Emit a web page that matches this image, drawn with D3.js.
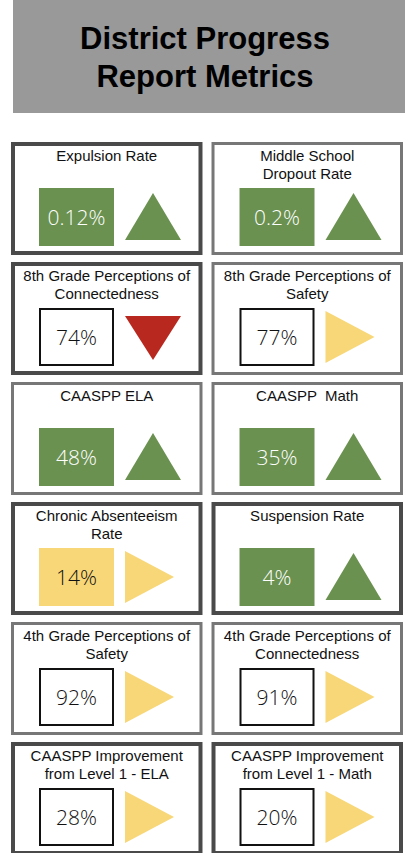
<!DOCTYPE html>
<html>
<head>
<meta charset="utf-8">
<script src="https://cdn.jsdelivr.net/npm/d3@7"></script>
<style>
  body { margin: 0; background: #fff; }
</style>
</head>
<body>
<div id="my_dataviz"></div>
<script>
// metric cards, read left->right, top->bottom
var titles = [
  ["Expulsion Rate"],
  ["Middle School", "Dropout Rate"],
  ["8th Grade Perceptions of", "Connectedness"],
  ["8th Grade Perceptions of", "Safety"],
  ["CAASPP ELA"],
  ["CAASPP  Math"],
  ["Chronic Absenteeism", "Rate"],
  ["Suspension Rate"],
  ["4th Grade Perceptions of", "Safety"],
  ["4th Grade Perceptions of", "Connectedness"],
  ["CAASPP Improvement", "from Level 1 - ELA"],
  ["CAASPP Improvement", "from Level 1 - Math"]
];
var values = ["0.12%", "0.2%", "74%", "77%", "48%", "35%", "14%", "4%", "92%", "91%", "28%", "20%"];
// up = improving, down = declining, flat = no change
var trends = ["up", "up", "down", "flat", "up", "up", "flat", "up", "flat", "flat", "flat", "flat"];
var boxKinds = ["green", "green", "outline", "outline", "green", "green", "yellow", "green", "outline", "outline", "outline", "outline"];
var borderTones = ["dark", "mid", "dark", "mid", "mid", "mid", "dark", "dark", "mid", "mid", "dark", "dark"];

var W = 405, H = 853;
var green = "#6a9150", red = "#b8281e", yellow = "#f8d779";

var svg = d3.select("#my_dataviz")
  .append("svg")
    .attr("width", W)
    .attr("height", H);

// header
svg.append("rect")
  .attr("x", 13).attr("y", 0)
  .attr("width", W - 13).attr("height", 113)
  .attr("fill", "#999999");

svg.append("text")
  .attr("x", 205)
  .attr("text-anchor", "middle")
  .style("font-family", "'Liberation Sans', Arial, sans-serif")
  .style("font-weight", "bold")
  .style("font-size", "31px")
  .attr("fill", "#000")
  .selectAll("tspan")
  .data(["District Progress", "Report Metrics"])
  .join("tspan")
    .attr("x", 205)
    .attr("y", function(d, i) { return 49 + i * 38; })
    .text(function(d) { return d; });

// grid of cards
var x = d3.scaleBand().domain([0, 1]).range([11, 403]).paddingInner(0.045);
var y = d3.scaleBand().domain(d3.range(6)).range([142, 855]).paddingInner(7 / 120);

var cards = values.map(function(v, i) {
  return { i: i, title: titles[i], value: v, trend: trends[i], box: boxKinds[i], tone: borderTones[i] };
});

var card = svg.selectAll("g.card")
  .data(cards)
  .join("g")
    .attr("class", "card")
    .attr("transform", function(d) {
      return "translate(" + x(d.i % 2) + "," + y(Math.floor(d.i / 2)) + ")";
    });

var cw = x.bandwidth(), ch = y.bandwidth();

card.append("rect")
  .attr("x", function(d) { return d.tone === "dark" ? 2 : 1.5; })
  .attr("y", function(d) { return d.tone === "dark" ? 2 : 1.5; })
  .attr("width", function(d) { return cw - (d.tone === "dark" ? 4 : 3); })
  .attr("height", function(d) { return ch - (d.tone === "dark" ? 4 : 3); })
  .attr("fill", "#fff")
  .attr("stroke", function(d) { return d.tone === "dark" ? "#4a4a4a" : "#777777"; })
  .attr("stroke-width", function(d) { return d.tone === "dark" ? 4 : 3; });

card.append("text")
  .attr("text-anchor", "middle")
  .style("font-family", "'Liberation Sans', Arial, sans-serif")
  .style("font-size", "15px")
  .style("white-space", "pre")
  .attr("fill", "#111")
  .selectAll("tspan")
  .data(function(d) { return d.title; })
  .join("tspan")
    .attr("x", cw / 2)
    .attr("y", function(d, i) { return 19 + i * 18; })
    .text(function(d) { return d; });

// value box
var bx = 28, by = 46, bw = 75, bh = 58;
card.append("rect")
  .attr("x", function(d) { return d.box === "outline" ? bx + 1 : bx; })
  .attr("y", function(d) { return d.box === "outline" ? by + 1 : by; })
  .attr("width", function(d) { return d.box === "outline" ? bw - 2 : bw; })
  .attr("height", function(d) { return d.box === "outline" ? bh - 2 : bh; })
  .attr("fill", function(d) { return d.box === "green" ? green : d.box === "yellow" ? yellow : "#fff"; })
  .attr("stroke", function(d) { return d.box === "outline" ? "#111" : "none"; })
  .attr("stroke-width", 2);

card.append("text")
  .attr("x", bx + bw / 2)
  .attr("y", by + bh / 2 + 7.5)
  .attr("text-anchor", "middle")
  .style("font-family", "'Open Sans', Lato, sans-serif")
  .style("font-weight", 300)
  .style("font-size", "21px")
  .attr("fill", function(d) { return d.box === "green" ? "#fff" : "#111"; })
  .text(function(d) { return d.value; });

// trend marker
var tx = bx + bw + 11, cy = by + bh / 2;
var shapes = {
  up:   function() { return [[tx, cy + 23], [tx + 28, cy - 24], [tx + 56, cy + 23]]; },
  down: function() { return [[tx, cy - 21], [tx + 56, cy - 21], [tx + 28, cy + 23]]; },
  flat: function() { return [[tx, cy - 26], [tx + 49, cy], [tx, cy + 26]]; }
};
var trendColor = { up: green, down: red, flat: yellow };

card.append("path")
  .attr("d", function(d) { return d3.line()(shapes[d.trend]()) + "Z"; })
  .attr("fill", function(d) { return trendColor[d.trend]; });
</script>
</body>
</html>
